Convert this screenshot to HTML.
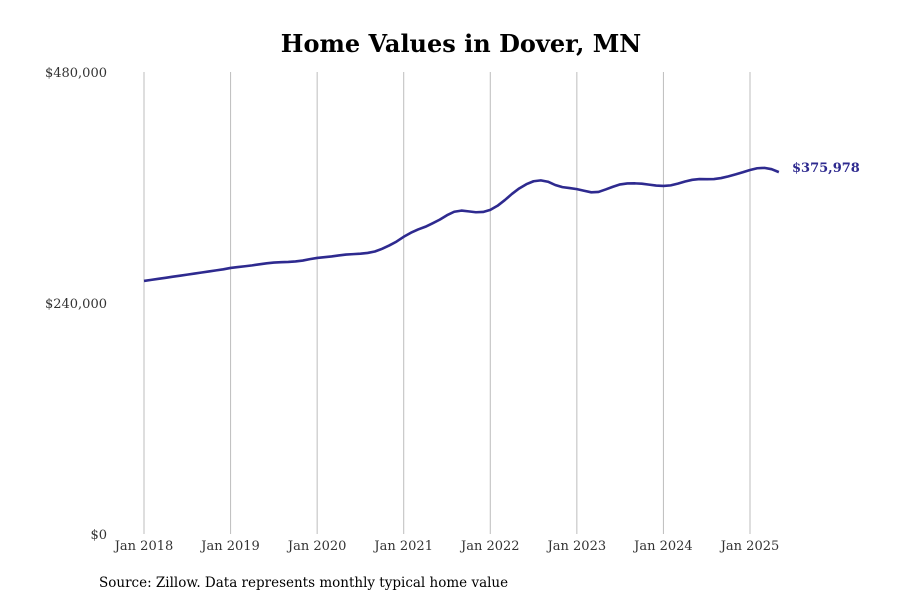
<!DOCTYPE html>
<html><head><meta charset="utf-8"><style>
body{margin:0;background:#fff;}
svg{display:block;font-family:"DejaVu Serif","Liberation Serif",serif;}
</style></head><body>
<svg id="chart" width="900" height="600">
<text x="461" y="52" text-anchor="middle" font-size="24" font-weight="bold" fill="#000">Home Values in Dover, MN</text>
<g id="grid"></g><g id="yticks"></g><g id="xticks"></g>
<path id="line" fill="none" stroke="#2e2a8f" stroke-width="2.6" stroke-linejoin="round"></path>
<text id="endlabel" font-size="13" font-weight="bold" fill="#2e2a8f"></text>
<text x="99" y="587" font-size="13.5" fill="#000">Source: Zillow. Data represents monthly typical home value</text>
</svg>
<script>
const xLabels=["Jan 2018","Jan 2019","Jan 2020","Jan 2021","Jan 2022","Jan 2023","Jan 2024","Jan 2025"];
const yTicks=[0,240000,480000];
const yTickLabels=["$0","$240,000","$480,000"];
const values=[
262.9,264.0,265.1,266.2,267.3,268.4,269.5,270.6,271.7,272.8,273.9,275.0,
276.4,277.3,278.2,279.1,280.2,281.2,282.0,282.4,282.7,283.2,284.1,285.6,
286.8,287.6,288.4,289.4,290.3,290.8,291.2,292.0,293.5,296.3,299.8,303.8,
308.8,313.0,316.4,319.2,322.8,326.6,331.2,334.8,336.0,335.2,334.3,334.6,
336.8,341.0,346.8,353.3,359.0,363.4,366.5,367.4,366.0,362.6,360.4,359.4,
358.3,356.6,355.0,355.4,358.0,360.8,363.2,364.2,364.3,364.0,363.0,362.0,
361.6,362.2,364.0,366.2,368.0,368.8,368.6,368.8,369.8,371.6,373.6,375.8,
378.2,380.0,380.4,379.0,375.978];
const lastLabel="$375,978";
const NS="http://www.w3.org/2000/svg";
const x=m=>144+m*(606/84);
const y=v=>534-v*462/480000;
const grid=document.getElementById('grid'),xt=document.getElementById('xticks'),yt=document.getElementById('yticks');
xLabels.forEach((l,i)=>{
 const ln=document.createElementNS(NS,'line');
 
 
 ln.setAttribute('x1',x(i*12));ln.setAttribute('x2',x(i*12));ln.setAttribute('y1',72);ln.setAttribute('y2',534);
 ln.setAttribute('stroke','#bdbdbd');ln.setAttribute('stroke-width','1');grid.appendChild(ln);
 const t=document.createElementNS(NS,'text');
 
 
 t.setAttribute('x',x(i*12));t.setAttribute('y',550);t.setAttribute('text-anchor','middle');
 t.setAttribute('font-size','13');t.setAttribute('fill','#333');t.textContent=l;xt.appendChild(t);
});
yTicks.forEach((v,i)=>{
 const t=document.createElementNS(NS,'text');
 
 
 t.setAttribute('x',107);t.setAttribute('y',y(v)+5);t.setAttribute('text-anchor','end');
 t.setAttribute('font-size','13');t.setAttribute('fill','#333');t.textContent=yTickLabels[i];yt.appendChild(t);
});
document.getElementById('line').setAttribute('d',values.map((v,i)=>(i?'L':'M')+x(i).toFixed(2)+','+y(v*1000).toFixed(2)).join(''));
const el=document.getElementById('endlabel');
el.setAttribute('x',792);el.setAttribute('y',y(values[values.length-1]*1000)+0);el.textContent=lastLabel;
</script>
</body></html>
